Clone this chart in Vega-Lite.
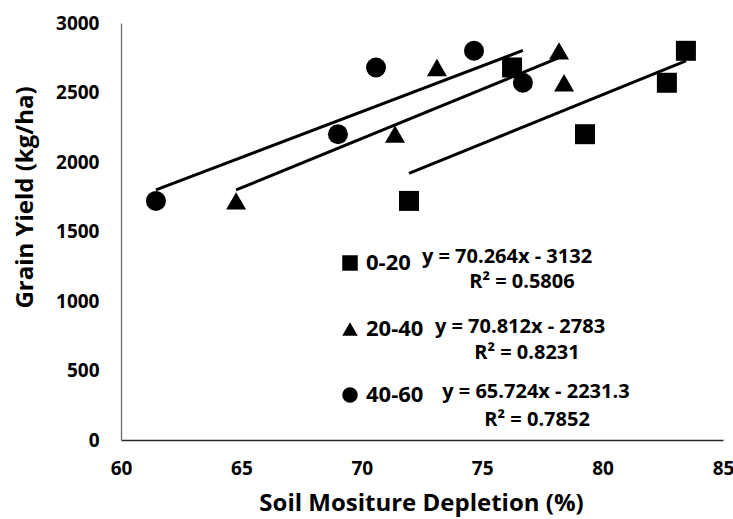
{
  "$schema": "https://vega.github.io/schema/vega-lite/v6.json",
  "width": 602,
  "height": 417,
  "autosize": {"type": "none"},
  "padding": {"left": 121, "top": 23, "right": 10, "bottom": 79},
  "background": "white",
  "config": {
    "view": {"stroke": null},
    "font": "Open Sans"
  },
  "datasets": {
    "pts": [
      {"depth": "0-20", "smd": 71.96, "yield": 1720},
      {"depth": "0-20", "smd": 79.27, "yield": 2200},
      {"depth": "0-20", "smd": 82.67, "yield": 2570},
      {"depth": "0-20", "smd": 76.24, "yield": 2680},
      {"depth": "0-20", "smd": 83.46, "yield": 2800},
      {"depth": "20-40", "smd": 64.78, "yield": 1720},
      {"depth": "20-40", "smd": 71.38, "yield": 2200},
      {"depth": "20-40", "smd": 78.4, "yield": 2570},
      {"depth": "20-40", "smd": 73.12, "yield": 2680},
      {"depth": "20-40", "smd": 78.19, "yield": 2800},
      {"depth": "40-60", "smd": 61.45, "yield": 1720},
      {"depth": "40-60", "smd": 69.01, "yield": 2200},
      {"depth": "40-60", "smd": 76.69, "yield": 2570},
      {"depth": "40-60", "smd": 70.59, "yield": 2680},
      {"depth": "40-60", "smd": 74.66, "yield": 2800}
    ],
    "notes": [
      {"smd": 76.03, "yield": 1317, "label": "y = 70.264x - 3132"},
      {"smd": 76.65, "yield": 1137, "label": "R² = 0.5806"},
      {"smd": 76.57, "yield": 810, "label": "y = 70.812x - 2783"},
      {"smd": 76.86, "yield": 628, "label": "R² = 0.8231"},
      {"smd": 77.23, "yield": 345, "label": "y = 65.724x - 2231.3"},
      {"smd": 77.28, "yield": 144, "label": "R² = 0.7852"}
    ]
  },
  "layer": [
    {
      "data": {"name": "pts"},
      "transform": [
        {"regression": "yield", "on": "smd", "groupby": ["depth"], "method": "linear"}
      ],
      "mark": {"type": "line", "color": "black", "strokeWidth": 3},
      "encoding": {
        "x": {"field": "smd", "type": "quantitative"},
        "y": {"field": "yield", "type": "quantitative"},
        "detail": {"field": "depth"}
      }
    },
    {
      "data": {"name": "pts"},
      "mark": {"type": "point", "filled": true, "color": "black", "opacity": 1, "size": 400, "strokeWidth": 0},
      "encoding": {
        "x": {
          "field": "smd", "type": "quantitative",
          "scale": {"domain": [60, 85], "nice": false, "zero": false},
          "axis": {
            "values": [60, 65, 70, 75, 80, 85],
            "title": "Soil Mositure Depletion (%)",
            "grid": false, "ticks": false,
            "domainColor": "#262626", "domainWidth": 1.3,
            "labelFont": "Open Sans", "labelFontWeight": "bold", "labelFontSize": 19, "labelColor": "black",
            "labelPadding": 19, "labelFlush": false,
            "titleFont": "Open Sans", "titleFontWeight": "bold", "titleFontSize": 24, "titleColor": "black",
            "titleX": 300, "titleY": 63, "titleBaseline": "middle"
          }
        },
        "y": {
          "field": "yield", "type": "quantitative",
          "scale": {"domain": [0, 3000], "nice": false},
          "axis": {
            "values": [0, 500, 1000, 1500, 2000, 2500, 3000],
            "format": "d",
            "title": "Grain Yield (kg/ha)",
            "grid": false, "ticks": false,
            "domainColor": "#6e6e6e", "domainWidth": 1.3,
            "labelFont": "Open Sans", "labelFontWeight": "bold", "labelFontSize": 19, "labelColor": "black",
            "labelPadding": 22, "labelFlush": false,
            "titleFont": "Open Sans", "titleFontWeight": "bold", "titleFontSize": 24, "titleColor": "black",
            "titleX": -96, "titleY": 174, "titleBaseline": "middle", "titleAngle": -90
          }
        },
        "shape": {
          "field": "depth", "type": "nominal",
          "scale": {"domain": ["0-20", "20-40", "40-60"], "range": ["square", "triangle-up", "circle"]},
          "legend": {
            "title": null,
            "orient": "none",
            "legendX": 218,
            "legendY": 229,
            "symbolFillColor": "black",
            "symbolStrokeColor": "black",
            "symbolStrokeWidth": 0,
            "symbolSize": 240,
            "labelFont": "Open Sans",
            "labelFontWeight": "bold",
            "labelFontSize": 22,
            "labelColor": "black",
            "labelOffset": 5,
            "rowPadding": 44
          }
        }
      }
    },
    {
      "data": {"name": "notes"},
      "mark": {"type": "text", "font": "Open Sans", "fontWeight": "bold", "fontSize": 20, "color": "black", "align": "center", "baseline": "middle"},
      "encoding": {
        "x": {"field": "smd", "type": "quantitative"},
        "y": {"field": "yield", "type": "quantitative"},
        "text": {"field": "label"}
      }
    }
  ]
}
